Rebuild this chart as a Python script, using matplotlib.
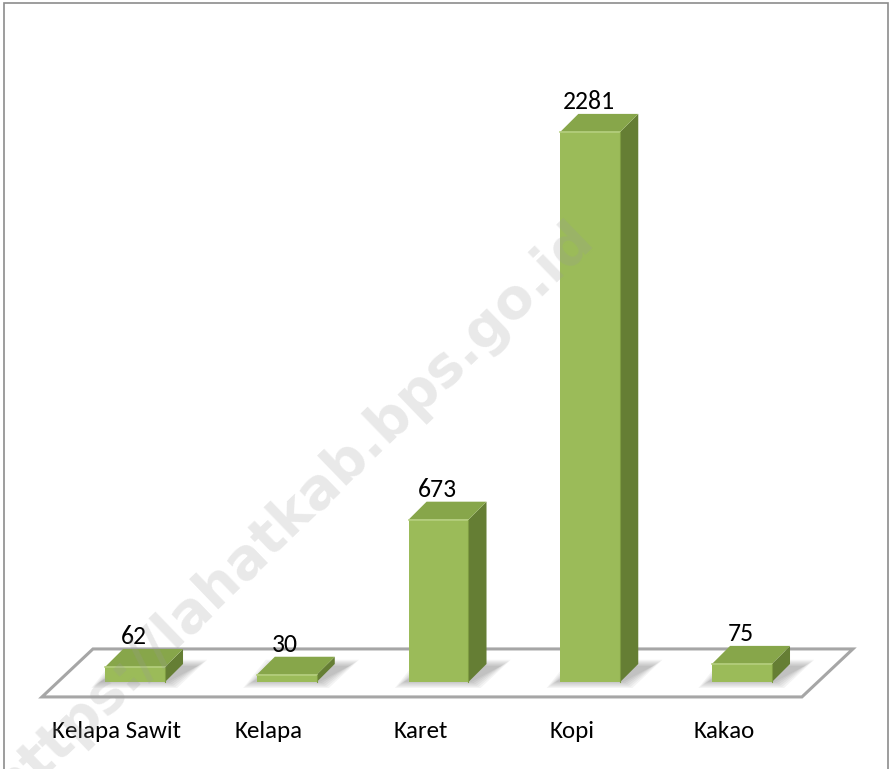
import matplotlib
matplotlib.use('Agg')
import matplotlib.pyplot as plt
from matplotlib.patches import Polygon, Rectangle

categories = ['Kelapa Sawit', 'Kelapa', 'Karet', 'Kopi', 'Kakao']
values = [62, 30, 673, 2281, 75]

plt.rcParams['font.family'] = ['Carlito', 'Liberation Sans Narrow', 'Lato', 'DejaVu Sans']

fig = plt.figure(figsize=(8.91, 7.69), dpi=100)
ax = fig.add_axes([0, 0, 1, 1])
ax.set_xlim(-0.8896, 4.982)
ax.set_ylim(-360.8, 2828)
ax.axis('off')

# 3d look: depth offsets in data units
w = 0.395
ddx = 0.119
ddy = 74.7

front_c = '#9bbb59'
top_c = '#87a64a'
side_c = '#657e34'

# floor
fx0, fx1 = -0.613, 4.395
fdx, fdy = 0.336, 199
fy = -62
floor = Polygon([(fx0, fy), (fx1, fy), (fx1 + fdx, fy + fdy), (fx0 + fdx, fy + fdy)],
                closed=True, facecolor='white', edgecolor='#a6a6a6', lw=2.2, zorder=1)
ax.add_patch(floor)

for i, v in enumerate(values):
    x0 = i - w / 2
    x1 = i + w / 2
    # soft shadow on the floor
    for k in range(6):
        g = 0.012 * k
        gy = 5 * k
        sh = Polygon([(x0 - 0.03 - g, 0 - gy), (x1 + 0.02 + g, 0 - gy),
                      (x1 + ddx + 0.1 + g, ddy * 0.9 + gy), (x0 + ddx - g, ddy * 0.9 + gy)],
                     closed=True, facecolor='#000000', alpha=0.045, lw=0, zorder=2)
        ax.add_patch(sh)
    # side
    ax.add_patch(Polygon([(x1, 0), (x1 + ddx, ddy), (x1 + ddx, v + ddy), (x1, v)],
                         closed=True, facecolor=side_c, edgecolor='none', zorder=3))
    # top
    ax.add_patch(Polygon([(x0, v), (x1, v), (x1 + ddx, v + ddy), (x0 + ddx, v + ddy)],
                         closed=True, facecolor=top_c, edgecolor='none', zorder=3))
    # front
    ax.add_patch(Rectangle((x0, 0), w, v, facecolor=front_c, edgecolor='none', zorder=4))
    # bevel highlight on the top front edge
    ax.plot([x0, x1], [v, v], color='#b5cf7e', lw=1.2, zorder=5)
    ax.plot([x1, x1], [0, v], color='#7e9c42', lw=0.8, zorder=5)

    ax.text(i - 0.01, v + ddy + 52, str(v), ha='center', va='center',
            fontsize=18.5, color='black', zorder=6)
    ax.text(i - 0.12, -205, categories[i], ha='center', va='center',
            fontsize=18, color='black', zorder=6)

# watermark
fig.text(0.328, 0.333, 'https://lahatkab.bps.go.id', rotation=44, ha='center', va='center',
         fontsize=40, fontweight='bold', color='#9a9a9a', alpha=0.22,
         family=['DejaVu Sans'], zorder=10)

# outer frame
fig.add_artist(Rectangle((0.005, -0.01), 0.992, 1.006, transform=fig.transFigure,
                         fill=False, edgecolor='#8c8c8c', lw=1.2))

fig.savefig('out.png', dpi=100)
